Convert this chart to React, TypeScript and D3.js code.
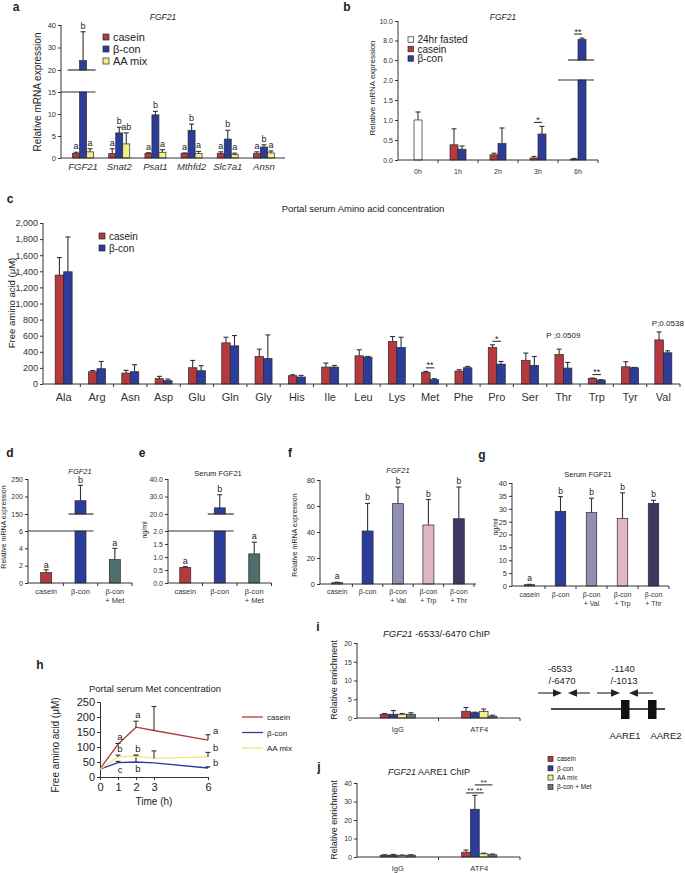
import React, { useEffect, useRef } from 'react';
import * as d3 from 'd3';

const FONT = '"Liberation Sans", Arial, Helvetica, sans-serif';
const INK = '#333';
const RED = '#b5393e';
const BLUE = '#2b3c9a';
const YELLOW = '#f3ef86';
const TEAL = '#4f6f6c';
const SLATE = '#627c79';
const VAL = '#8f8fb4';
const TRP = '#e2b6c0';
const THR = '#3e3762';

// a: liver mRNA
const genesA = ['FGF21', 'Snat2', 'Psat1', 'Mthfd2', 'Slc7a1', 'Ansn'];
const seriesA = ['casein', 'β-con', 'AA mix'];
const caseinA = [1.0, 1.0, 1.0, 1.0, 1.0, 1.0];
const caseinErrA = [0.3, 1.1, 0.2, 0.15, 0.4, 0.4];
const bconA = [24.2, 5.7, 9.8, 6.3, 4.3, 2.5];
const bconErrA = [12.8, 1.3, 0.8, 1.4, 2.0, 0.5];
const mixA = [1.4, 3.2, 1.3, 1.0, 0.75, 1.15];
const mixErrA = [0.7, 2.5, 0.6, 0.5, 0.35, 0.45];
const lettersA = [
  ['a', 'b', 'a'], ['a', 'b', 'ab'], ['a', 'b', 'a'],
  ['a', 'b', 'a'], ['a', 'b', 'a'], ['a', 'b', 'a'],
];
const ticksA = [0, 5, 10, 15];
const ticksAHigh = [20, 30, 40];

// b: time course
const timesB = ['0h', '1h', '2h', '3h', '6h'];
const seriesB = ['24hr fasted', 'casein', 'β-con'];
const fastedB = [1.0, null, null, null, null];
const fastedErrB = [0.2, 0, 0, 0, 0];
const caseinB = [null, 0.38, 0.13, 0.05, 0.02];
const caseinErrB = [0, 0.4, 0.04, 0.04, 0.02];
const bconB = [null, 0.27, 0.41, 0.65, 8.1];
const bconErrB = [0, 0.08, 0.39, 0.19, 0.15];
const sigB = ['', '', '', '*', '**'];
const ticksB = [0, 0.5, 1, 1.5, 2];
const ticksBHigh = [6, 8, 10];

// c: portal amino acids
const aminoC = ['Ala', 'Arg', 'Asn', 'Asp', 'Glu', 'Gln', 'Gly', 'His', 'Ile', 'Leu',
  'Lys', 'Met', 'Phe', 'Pro', 'Ser', 'Thr', 'Trp', 'Tyr', 'Val'];
const caseinC = [1353, 152, 136, 66, 202, 511, 342, 103, 210, 350, 528, 144, 161, 454, 293, 367, 70, 214, 548];
const caseinErrC = [218, 15, 34, 29, 91, 70, 91, 12, 50, 75, 62, 13, 16, 33, 91, 66, 4, 62, 99];
const bconC = [1394, 190, 153, 41, 165, 474, 318, 87, 210, 334, 454, 54, 202, 247, 231, 198, 49, 202, 388];
const bconErrC = [433, 90, 87, 21, 62, 128, 292, 20, 21, 8, 127, 12, 16, 33, 111, 70, 5, 4, 24];
const sigC = ['', '', '', '', '', '', '', '', '', '', '', '**', '', '*', '', '', '**', '', ''];
const pNoteC = ['', '', '', '', '', '', '', '', '', '', '', '', '', '', '', 'P ;0.0509', '', '', 'P;0.0538'];
const ticksC = [0, 200, 400, 600, 800, 1000, 1200, 1400, 1600, 1800, 2000];

// d, e: Met add-back
const groupsD = ['casein', 'β-con', 'β-con\n+ Met'];
const fgfD = [1.2, 188, 2.7];
const fgfErrD = [0.33, 44, 1.3];
const lettersD = ['a', 'b', 'a'];
const serumE = [0.6, 23.5, 1.12];
const serumErrE = [0.03, 7.5, 0.45];
const lettersE = ['a', 'b', 'a'];

// f, g: Val / Trp / Thr add-back
const groupsF = ['casein', 'β-con', 'β-con\n+ Val', 'β-con\n+ Trp', 'β-con\n+ Thr'];
const fgfF = [1.0, 40.8, 61.8, 45.4, 50.2];
const fgfErrF = [0.4, 21.2, 12.8, 19.6, 24.4];
const lettersF = ['a', 'b', 'b', 'b', 'b'];
const serumG = [0.5, 29, 28.5, 26.2, 32.1];
const serumErrG = [0.15, 5.7, 5.6, 10, 1.2];
const lettersG = ['a', 'b', 'b', 'b', 'b'];

// h: portal Met over time
const hoursH = [0, 1, 2, 3, 6];
const caseinH = [27, 109, 166, 155, 123];
const caseinErrH = [0, 3, 20, 80, 18];
const bconH = [26, 48, 50, 47, 30];
const bconErrH = [0, 4, 22, 0, 4];
const mixH = [26, 67, 70, 62, 67];
const mixErrH = [0, 6, 3, 25, 15];
const caseinLetH = ['', 'a', 'a', '', 'a'];
const bconLetH = ['', 'c', 'b', '', 'b'];
const mixLetH = ['', 'b', 'b', '', 'b'];

// i, j: ChIP
const chipGroups = ['IgG', 'ATF4'];
const chipSeries = ['casein', 'β-con', 'AA mix', 'β-con + Met'];
const iValues = [[1.0, 1.8], [1.0, 1.4], [1.0, 1.7], [1.0, 0.5]];
const iErrors = [[0.2, 1.0], [1.0, 0.15], [0.2, 0.7], [0.4, 0.25]];
const jValues = [[1.0, 2.6], [1.0, 25.8], [0.9, 1.7], [1.0, 1.2]];
const jErrors = [[0.2, 1.2], [0.4, 7.5], [0.2, 0.4], [0.2, 0.4]];

type G = d3.Selection<SVGGElement, unknown, null, undefined>;
interface YAx {
  low: d3.ScaleLinear<number, number>;
  high?: d3.ScaleLinear<number, number>;
}

const yAt = (ax: YAx, v: number) =>
  ax.high && v > ax.low.domain()[1] ? ax.high(v) : ax.low(v);

function txt(g: G, x: number, y: number, s: string, size: number, anchor = 'middle', italic = false, bold = false) {
  return g.append('text')
    .attr('x', x).attr('y', y)
    .attr('text-anchor', anchor)
    .attr('font-family', FONT)
    .attr('font-size', size)
    .attr('font-style', italic ? 'italic' : null)
    .attr('font-weight', bold ? 'bold' : null)
    .attr('fill', '#222')
    .text(s);
}

function vtxt(g: G, x: number, y: number, s: string, size: number) {
  return g.append('text')
    .attr('transform', `translate(${x},${y}) rotate(-90)`)
    .attr('text-anchor', 'middle')
    .attr('font-family', FONT)
    .attr('font-size', size)
    .attr('fill', '#222')
    .text(s);
}

function hline(g: G, x1: number, x2: number, y: number, w = 1.1, color = INK) {
  g.append('line').attr('x1', x1).attr('x2', x2).attr('y1', y).attr('y2', y)
    .attr('stroke', color).attr('stroke-width', w);
}

function yAxis(g: G, ax: YAx, x: number, lowTicks: number[], highTicks: number[], fmt: (v: number) => string, size: number) {
  const a = g.append('g').attr('transform', `translate(${x},0)`);
  a.append('g').call(d3.axisLeft(ax.low).tickValues(lowTicks).tickFormat((d) => fmt(+d)).tickSize(3).tickPadding(2));
  if (ax.high) {
    a.append('g').call(d3.axisLeft(ax.high).tickValues(highTicks).tickFormat((d) => fmt(+d)).tickSize(3).tickPadding(2));
  }
  a.selectAll('.domain').remove();
  const top = (ax.high ?? ax.low).range()[1];
  a.append('line').attr('y1', ax.low.range()[0]).attr('y2', top).attr('stroke', INK);
  a.selectAll('.tick line').attr('stroke', INK);
  a.selectAll('.tick text').attr('font-family', FONT).attr('font-size', size).attr('fill', '#333');
}

function xAxis(g: G, x: d3.ScaleBand<string>, y: number, x0: number, x1: number, size: number, pad: number, italic = false, bounds = true) {
  const a = g.append('g').attr('transform', `translate(0,${y})`);
  a.call(d3.axisBottom(x).tickSize(0).tickPadding(pad));
  a.select('.domain').remove();
  a.append('line').attr('x1', x0).attr('x2', x1).attr('stroke', INK);
  a.selectAll<SVGTextElement, string>('.tick text').each(function (d) {
    const t = d3.select(this).text(null).attr('dy', null);
    String(d).split('\n').forEach((s, i) =>
      t.append('tspan').attr('x', 0).attr('dy', i === 0 ? '0.71em' : '1.2em').text(s));
  })
    .attr('font-family', FONT).attr('font-size', size).attr('fill', '#333')
    .attr('font-style', italic ? 'italic' : null);
  if (bounds) {
    x.domain().forEach((_, i) => {
      const bx = x.range()[0] + x.step() * (i + 1);
      a.append('line').attr('x1', bx).attr('x2', bx).attr('y1', 0).attr('y2', 3).attr('stroke', INK);
    });
  }
}

function errBar(g: G, x: number, y0: number, y1: number, cap = 5) {
  g.append('line').attr('x1', x).attr('x2', x).attr('y1', y0).attr('y2', y1)
    .attr('stroke', INK).attr('stroke-width', 1.1);
  hline(g, x - cap / 2, x + cap / 2, y1, 1.1);
}

function bar(g: G, ax: YAx, cx: number, w: number, v: number | null, err: number, fill: string) {
  if (v == null) return;
  const base = ax.low(0);
  const lowMax = ax.low.domain()[1];
  const parts = ax.high && v > lowMax
    ? [[ax.high(v), ax.high(ax.high.domain()[0])], [ax.low(lowMax), base]]
    : [[ax.low(v), base]];
  parts.forEach(([y0, y1]) => {
    g.append('rect').attr('x', cx - w / 2).attr('y', y0).attr('width', w)
      .attr('height', Math.max(0, y1 - y0))
      .attr('fill', fill).attr('stroke', '#2a2a2a').attr('stroke-width', 0.7);
  });
  if (err > 0) errBar(g, cx, yAt(ax, v), yAt(ax, v + err));
}

function legend(g: G, x: number, y0: number, dy: number, labels: string[], colors: string[], size: number, box: number) {
  labels.forEach((l, i) => {
    const cy = y0 + i * dy;
    g.append('rect').attr('x', x).attr('y', cy - box / 2).attr('width', box).attr('height', box)
      .attr('fill', colors[i]).attr('stroke', '#2a2a2a').attr('stroke-width', 0.7);
    txt(g, x + box + 4, cy + size * 0.36, l, size, 'start');
  });
}

function drawFigure(svg: d3.Selection<SVGSVGElement, unknown, null, undefined>) {
  const root = svg.append('g') as unknown as G;
  root.append('rect').attr('width', 685).attr('height', 873).attr('fill', '#fff');

  const panelLabels: [string, number, number][] = [
    ['a', 16, 11], ['b', 347, 11], ['c', 10, 203], ['d', 10, 457], ['e', 142, 457],
    ['f', 290, 457], ['g', 482, 459], ['h', 40, 669], ['i', 318, 631], ['j', 319, 771],
  ];
  panelLabels.forEach(([s, x, y]) => txt(root, x, y, s, 12, 'middle', false, true));

  // ---------- a ----------
  {
    const g = root.append('g');
    const ax: YAx = {
      low: d3.scaleLinear().domain([0, 15]).range([158, 92]),
      high: d3.scaleLinear().domain([20, 40]).range([70, 25]),
    };
    yAxis(g, ax, 61, ticksA, ticksAHigh, d3.format('d'), 7.5);
    const x = d3.scaleBand<string>().domain(genesA).range([65, 282]);
    const w = 7;
    const vals = [caseinA, bconA, mixA];
    const errs = [caseinErrA, bconErrA, mixErrA];
    const cols = [RED, BLUE, YELLOW];
    genesA.forEach((gn, i) => {
      const c = x(gn)! + x.bandwidth() / 2;
      vals.forEach((vs, k) => {
        const cx = c + (k - 1) * w;
        bar(g, ax, cx, w, vs[i], errs[k][i], cols[k]);
        txt(g, cx, yAt(ax, vs[i] + errs[k][i]) - 3, lettersA[i][k], 9);
      });
    });
    const bx = x(genesA[0])! + x.bandwidth() / 2;
    hline(g, bx - w / 2 - 12, bx + w / 2 + 9, ax.high!(20), 1.2);
    hline(g, 61, bx + w / 2 + 9, ax.low(15), 1.2);
    xAxis(g, x, 158, 61, 285, 9.5, 5, true, false);
    txt(g, 163, 20, 'FGF21', 8.5, 'middle', true);
    vtxt(g, 41, 92, 'Relative mRNA expression', 10);
    legend(g, 103, 37, 12, seriesA, cols, 11, 6);
  }

  // ---------- b ----------
  {
    const g = root.append('g');
    const ax: YAx = {
      low: d3.scaleLinear().domain([0, 2]).range([160, 80]),
      high: d3.scaleLinear().domain([6, 10]).range([60, 21]),
    };
    yAxis(g, ax, 398, ticksB, ticksBHigh, d3.format('.1f'), 7);
    const x = d3.scaleBand<string>().domain(timesB).range([398, 598]);
    const w = 8;
    timesB.forEach((t, i) => {
      const c = x(t)! + x.bandwidth() / 2;
      bar(g, ax, c, w, fastedB[i], fastedErrB[i], '#fff');
      bar(g, ax, c - w / 2, w, caseinB[i], caseinErrB[i], RED);
      bar(g, ax, c + w / 2, w, bconB[i], bconErrB[i], BLUE);
      if (sigB[i]) {
        const top = Math.min(
          yAt(ax, (caseinB[i] ?? 0) + caseinErrB[i]),
          yAt(ax, (bconB[i] ?? 0) + bconErrB[i]),
        );
        const ly = top - 4;
        hline(g, c - w / 2, c + w / 2, ly, 1.1);
        txt(g, c, ly + 0.5, sigB[i], 9);
      }
    });
    const cx6 = x('6h')! + x.bandwidth() / 2 + w / 2;
    hline(g, cx6 - 14, cx6 + 12, ax.high!(6), 1.2);
    hline(g, cx6 - 24, cx6 + 12, ax.low(2), 1.2);
    xAxis(g, x, 160, 398, 598, 7, 9);
    txt(g, 503, 20, 'FGF21', 8.5, 'middle', true);
    vtxt(g, 375, 88, 'Relative mRNA expression', 8);
    legend(g, 408, 39.5, 9.5, seriesB, ['#fff', RED, BLUE], 10, 5.5);
  }

  // ---------- c ----------
  {
    const g = root.append('g');
    const ax: YAx = { low: d3.scaleLinear().domain([0, 2000]).range([384, 223]) };
    yAxis(g, ax, 43, ticksC, [], d3.format(','), 9);
    const x = d3.scaleBand<string>().domain(aminoC).range([47, 680]);
    const w = 8.5;
    aminoC.forEach((aa, i) => {
      const c = x(aa)! + x.bandwidth() / 2;
      bar(g, ax, c - w / 2, w, caseinC[i], caseinErrC[i], RED);
      bar(g, ax, c + w / 2, w, bconC[i], bconErrC[i], BLUE);
      if (sigC[i]) {
        const top = Math.min(ax.low(caseinC[i] + caseinErrC[i]), ax.low(bconC[i] + bconErrC[i]));
        const ly = top - 3.5;
        hline(g, c - w / 2, c + w / 2, ly, 1.1);
        txt(g, c, ly + 0.5, sigC[i], 9);
      }
      if (pNoteC[i]) {
        const top = ax.low(Math.max(caseinC[i] + caseinErrC[i], bconC[i] + bconErrC[i]));
        txt(g, c + (i === aminoC.length - 1 ? 4.5 : 0), top - (i === aminoC.length - 1 ? 6 : 11), pNoteC[i], 8);
      }
    });
    xAxis(g, x, 384, 43, 680, 11, 9);
    txt(g, 363, 211.5, 'Portal serum Amino acid concentration', 9.5);
    vtxt(g, 15, 303, 'Free amino acid (μM)', 9.5);
    legend(g, 99, 236, 12, ['casein', 'β-con'], [RED, BLUE], 10, 6);
  }

  // ---------- d ----------
  {
    const g = root.append('g');
    const ax: YAx = {
      low: d3.scaleLinear().domain([0, 6]).range([583, 531]),
      high: d3.scaleLinear().domain([150, 250]).range([514, 479]),
    };
    yAxis(g, ax, 28, [0, 2, 4, 6], [150, 200, 250], d3.format('d'), 7);
    const x = d3.scaleBand<string>().domain(groupsD).range([29, 132]);
    const w = 11;
    const cols = [RED, BLUE, TEAL];
    groupsD.forEach((gr, i) => {
      const c = x(gr)! + x.bandwidth() / 2;
      bar(g, ax, c, w, fgfD[i], fgfErrD[i], cols[i]);
      txt(g, c, yAt(ax, fgfD[i] + fgfErrD[i]) - 2, lettersD[i], 9);
    });
    const bc = x(groupsD[1])! + x.bandwidth() / 2;
    hline(g, bc - 12, bc + 13, ax.high!(150), 1.2);
    hline(g, 28, bc + 13, ax.low(6), 1.2);
    xAxis(g, x, 583, 28, 132, 7.5, 6);
    txt(g, 80, 473.5, 'FGF21', 7.5, 'middle', true);
    vtxt(g, 6, 527, 'Relative mRNA expression', 7);
  }

  // ---------- e ----------
  {
    const g = root.append('g');
    const ax: YAx = {
      low: d3.scaleLinear().domain([0, 2]).range([583, 531]),
      high: d3.scaleLinear().domain([20, 40]).range([514, 479]),
    };
    yAxis(g, ax, 168, [0, 0.5, 1, 1.5, 2], [20, 30, 40], d3.format('.1f'), 7);
    const x = d3.scaleBand<string>().domain(groupsD).range([168, 271.5]);
    const w = 11;
    const cols = [RED, BLUE, TEAL];
    groupsD.forEach((gr, i) => {
      const c = x(gr)! + x.bandwidth() / 2;
      bar(g, ax, c, w, serumE[i], serumErrE[i], cols[i]);
      txt(g, c, yAt(ax, serumE[i] + serumErrE[i]) - 3, lettersE[i], 9);
    });
    const bc = x(groupsD[1])! + x.bandwidth() / 2;
    hline(g, bc - 12, bc + 14, ax.high!(20), 1.2);
    hline(g, 168, bc + 14, ax.low(2), 1.2);
    xAxis(g, x, 583, 168, 271.5, 7.5, 6);
    txt(g, 218, 476, 'Serum FGF21', 7.5);
    vtxt(g, 146.5, 530, 'ng/ml', 7);
  }

  // ---------- f ----------
  {
    const g = root.append('g');
    const ax: YAx = { low: d3.scaleLinear().domain([0, 80]).range([584, 480]) };
    yAxis(g, ax, 320, [0, 20, 40, 60, 80], [], d3.format('d'), 7.5);
    const x = d3.scaleBand<string>().domain(groupsF).range([322, 474]);
    const w = 11;
    const cols = [RED, BLUE, VAL, TRP, THR];
    groupsF.forEach((gr, i) => {
      const c = x(gr)! + x.bandwidth() / 2;
      bar(g, ax, c, w, fgfF[i], fgfErrF[i], cols[i]);
      txt(g, c, ax.low(fgfF[i] + fgfErrF[i]) - 3, lettersF[i], 8.5);
    });
    xAxis(g, x, 584, 320, 476, 7, 5.5);
    txt(g, 398, 473, 'FGF21', 7.5, 'middle', true);
    vtxt(g, 296.5, 535, 'Relative mRNA expression', 7);
  }

  // ---------- g ----------
  {
    const g = root.append('g');
    const ax: YAx = { low: d3.scaleLinear().domain([0, 40]).range([586, 483]) };
    yAxis(g, ax, 512, [0, 5, 10, 15, 20, 25, 30, 35, 40], [], d3.format('d'), 7.5);
    const x = d3.scaleBand<string>().domain(groupsF).range([514, 669]);
    const w = 10.5;
    const cols = [RED, BLUE, VAL, TRP, THR];
    groupsF.forEach((gr, i) => {
      const c = x(gr)! + x.bandwidth() / 2;
      bar(g, ax, c, w, serumG[i], serumErrG[i], cols[i]);
      txt(g, c, ax.low(serumG[i] + serumErrG[i]) - 3, lettersG[i], 8.5);
    });
    xAxis(g, x, 586, 512, 669, 7, 6.5);
    txt(g, 588, 477, 'Serum FGF21', 7.5);
    vtxt(g, 498, 527, 'ng/ml', 7);
  }

  // ---------- h ----------
  {
    const g = root.append('g');
    const xs = d3.scaleLinear().domain([0, 6]).range([100, 208]);
    const ys = d3.scaleLinear().domain([0, 250]).range([777, 702]);
    const ya = g.append('g').attr('transform', 'translate(100,0)')
      .call(d3.axisLeft(ys).tickValues([0, 50, 100, 150, 200, 250]).tickSize(3).tickPadding(2));
    const xa = g.append('g').attr('transform', 'translate(0,777)')
      .call(d3.axisBottom(xs).tickValues(hoursH).tickFormat(d3.format('d')).tickSize(3).tickPadding(3));
    [ya, xa].forEach((a) => {
      a.selectAll('.domain').attr('stroke', INK);
      a.selectAll('.tick line').attr('stroke', INK);
      a.selectAll('.tick text').attr('font-family', FONT).attr('font-size', 11).attr('fill', '#222');
    });
    const line = d3.line<number>().x((_, i) => xs(hoursH[i])).y((d) => ys(d));
    const sets: [number[], number[], string[], string, string][] = [
      [caseinH, caseinErrH, caseinLetH, RED, 'casein'],
      [bconH, bconErrH, bconLetH, BLUE, 'β-con'],
      [mixH, mixErrH, mixLetH, '#efe872', 'AA mix'],
    ];
    sets.forEach(([vals, errs, lets, col], k) => {
      g.append('path').attr('d', line(vals)!).attr('fill', 'none').attr('stroke', col).attr('stroke-width', 1.3);
      vals.forEach((v, i) => {
        if (errs[i] > 0) errBar(g, xs(hoursH[i]), ys(v), ys(v + errs[i]), 5);
        if (!lets[i]) return;
        const right = hoursH[i] === 6;
        const below = k === 1 && !right;
        const lx = right ? xs(hoursH[i]) + 5 : xs(hoursH[i]) + 2;
        const ly = right ? ys(v + errs[i]) - 1 : below ? ys(v) + 10 : ys(v + errs[i]) - 3.5;
        txt(g, lx, ly, lets[i], 9.5, right ? 'start' : 'middle');
      });
    });
    txt(g, 155, 692, 'Portal serum Met concentration', 9.5);
    txt(g, 154, 805, 'Time (h)', 10);
    vtxt(g, 58.5, 745, 'Free amino acid (μM)', 10);
    sets.forEach(([, , , col, name], k) => {
      const ly = 717 + k * 15.5;
      hline(g, 242, 263, ly, 1.3, col);
      txt(g, 267, ly + 3, name, 8, 'start');
    });
  }

  // ---------- i, j ----------
  const chipCols = [RED, BLUE, YELLOW, SLATE];
  const chipPanel = (vals: number[][], errs: number[][], y0: number, y1: number, max: number, ticks: number[]) => {
    const g = root.append('g');
    const ax: YAx = { low: d3.scaleLinear().domain([0, max]).range([y0, y1]) };
    yAxis(g, ax, 357, ticks, [], d3.format('d'), 7);
    const x = d3.scaleBand<string>().domain(chipGroups).range([357, 520]);
    const w = 8.8;
    chipGroups.forEach((gr, i) => {
      const c = x(gr)! + x.bandwidth() / 2;
      chipSeries.forEach((_, k) => {
        bar(g, ax, c + (k - 1.5) * w, w, vals[k][i], errs[k][i], chipCols[k]);
      });
    });
    xAxis(g, x, y0, 357, 520, 7.5, 8.3);
    return { g, ax, x, w };
  };

  {
    const { g } = chipPanel(iValues, iErrors, 718, 643, 20, [0, 5, 10, 15, 20]);
    const t = txt(g, 383, 637, '', 9.5, 'start');
    t.append('tspan').attr('font-style', 'italic').text('FGF21');
    t.append('tspan').text(' -6533/-6470 ChIP');
    vtxt(g, 337, 680, 'Relative enrichment', 9);

    // promoter diagram
    const arrow = (xa: number, xb: number, y: number) => {
      const dir = Math.sign(xb - xa);
      g.append('line').attr('x1', xa).attr('x2', xb - dir * 6).attr('y1', y).attr('y2', y)
        .attr('stroke', '#666').attr('stroke-width', 1.6);
      g.append('path')
        .attr('d', `M${xb},${y} L${xb - dir * 9},${y - 3.8} L${xb - dir * 9},${y + 3.8} Z`)
        .attr('fill', '#222');
    };
    arrow(538, 562, 693);
    arrow(590, 568, 693);
    arrow(597, 620, 693);
    arrow(653, 629, 693);
    hline(g, 551, 665, 709, 1.4, '#111');
    g.append('rect').attr('x', 621).attr('y', 700).attr('width', 8.5).attr('height', 19).attr('fill', '#111');
    g.append('rect').attr('x', 648).attr('y', 700).attr('width', 8.5).attr('height', 19).attr('fill', '#111');
    txt(g, 560, 671.5, '-6533', 9.5);
    txt(g, 562, 684, '/-6470', 9.5);
    txt(g, 623, 671.5, '-1140', 9.5);
    txt(g, 624, 684, '/-1013', 9.5);
    txt(g, 625, 738.5, 'AARE1', 9.5);
    txt(g, 666, 738.5, 'AARE2', 9.5);
  }

  {
    const { g, ax, x, w } = chipPanel(jValues, jErrors, 857, 783, 40, [0, 10, 20, 30, 40]);
    const t = txt(g, 388, 775, '', 9, 'start');
    t.append('tspan').attr('font-style', 'italic').text('FGF21');
    t.append('tspan').text(' AARE1 ChIP');
    vtxt(g, 337, 820, 'Relative enrichment', 9);
    const c = x('ATF4')! + x.bandwidth() / 2;
    const cx = (k: number) => c + (k - 1.5) * w;
    const top = ax.low(jValues[1][1] + jErrors[1][1]);
    const sigPairs: [number, number, number][] = [[0, 1, 0], [1, 2, 0], [1, 3, 1]];
    sigPairs.forEach(([a, b, lvl]) => {
      const ly = top - 2.5 - lvl * 8;
      hline(g, cx(a), cx(b), ly, 1.1);
      txt(g, (cx(a) + cx(b)) / 2, ly + 0.5, '**', 8);
    });
    legend(g, 548, 759, 9.3, chipSeries, chipCols, 6.5, 5);
  }
}

export default function App() {
  const ref = useRef<SVGSVGElement>(null);
  useEffect(() => {
    const svg = d3.select(ref.current!);
    svg.selectAll('*').remove();
    drawFigure(svg);
  }, []);
  return (
    <svg
      ref={ref}
      width={685}
      height={873}
      style={{ position: 'absolute', left: 0, top: 0, background: '#fff' }}
    />
  );
}
